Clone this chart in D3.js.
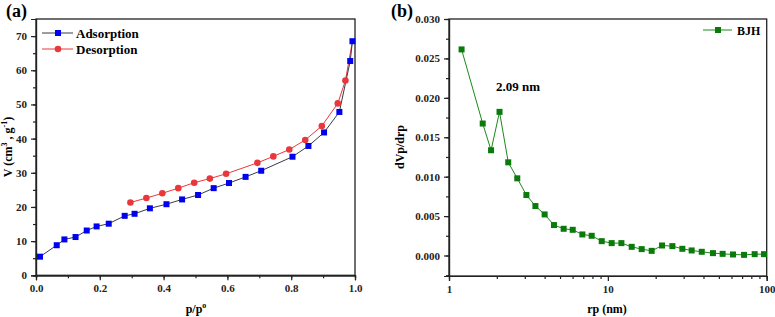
<!DOCTYPE html>
<html>
<head>
<meta charset="utf-8">
<script src="https://cdn.jsdelivr.net/npm/d3@7"></script>
<style>
  body { margin: 0; background: #fff; }
  text { font-family: "Liberation Serif", "Times New Roman", serif; font-weight: bold; }
</style>
</head>
<body>
<div id="chart"></div>
<script>
// panel (a) isotherm
const adsP = [0.0125, 0.065, 0.089, 0.124, 0.159, 0.190, 0.228, 0.278, 0.309, 0.357, 0.409, 0.458, 0.508, 0.557, 0.605, 0.657, 0.706, 0.804, 0.854, 0.903, 0.951, 0.985, 0.992];
const adsV = [5.45, 8.8, 10.5, 11.2, 13.1, 14.3, 15.1, 17.4, 18.0, 19.6, 20.8, 22.2, 23.5, 25.5, 27.0, 28.8, 30.6, 34.7, 37.85, 41.8, 47.8, 62.7, 68.5];
const desP = [0.296, 0.346, 0.396, 0.446, 0.496, 0.545, 0.596, 0.694, 0.744, 0.794, 0.844, 0.896, 0.946, 0.970, 0.992];
const desV = [21.3, 22.6, 24.0, 25.5, 27.1, 28.3, 29.7, 32.9, 34.8, 36.8, 39.6, 43.7, 50.3, 57.0, 68.5];
const aXTicks = [0, 0.2, 0.4, 0.6, 0.8, 1.0];
const aYTicks = [0, 10, 20, 30, 40, 50, 60, 70];

// panel (b) BJH pore size distribution
const rp = [1.20, 1.63, 1.84, 2.08, 2.36, 2.69, 3.07, 3.50, 4.00, 4.58, 5.27, 6.01, 6.91, 7.91, 9.15, 10.57, 12.17, 14.13, 16.33, 18.88, 21.93, 25.48, 29.45, 33.7, 39.0, 45.9, 52.8, 61.4, 72.0, 84.0, 96.2];
const dv = [0.02614, 0.01674, 0.01335, 0.01822, 0.01182, 0.00979, 0.00767, 0.00627, 0.00521, 0.00386, 0.00339, 0.00326, 0.00267, 0.00250, 0.00182, 0.00157, 0.00157, 0.00110, 0.00081, 0.00059, 0.00127, 0.00119, 0.00085, 0.00064, 0.00047, 0.00030, 0.00021, 0.00013, 0.00008, 0.00017, 0.00017];
const bXTicks = [1, 10, 100];
const bYTicks = [0, 0.005, 0.010, 0.015, 0.020, 0.025, 0.030];

const width = 775, height = 317;
const svg = d3.select("#chart").append("svg")
    .attr("width", width).attr("height", height);

// ---------- panel (a)
const xa = d3.scaleLinear().domain([0, 1]).range([36, 355]);
const ya = d3.scaleLinear().domain([0, 75]).range([275.3, 19]);

const ga = svg.append("g");
ga.append("rect").attr("x", 36).attr("y", 19).attr("width", 319).attr("height", 256.3)
    .attr("fill", "none").attr("stroke", "#222").attr("stroke-width", 1.3);

ga.append("g").attr("transform", "translate(0,275.3)")
    .call(d3.axisBottom(xa).tickValues(d3.range(0, 1.01, 0.1)).tickSize(3).tickFormat(""));
ga.append("g").attr("transform", "translate(0,275.3)")
    .call(d3.axisBottom(xa).tickValues(aXTicks).tickSize(5).tickPadding(4).tickFormat(d3.format(".1f")));
ga.append("g").attr("transform", "translate(36,0)")
    .call(d3.axisLeft(ya).tickValues(d3.range(0, 75, 5)).tickSize(3).tickFormat(""));
ga.append("g").attr("transform", "translate(36,0)")
    .call(d3.axisLeft(ya).tickValues(aYTicks).tickSize(5).tickPadding(4));

const desData = desP.map((p, i) => ({ p, v: desV[i] }));
const adsData = adsP.map((p, i) => ({ p, v: adsV[i] }));

ga.append("path").datum(desData)
    .attr("fill", "none").attr("stroke", "#e8383c").attr("stroke-width", 1)
    .attr("d", d3.line().x(d => xa(d.p)).y(d => ya(d.v)));
ga.append("path").datum(adsData)
    .attr("fill", "none").attr("stroke", "#3a3a4a").attr("stroke-width", 1)
    .attr("d", d3.line().x(d => xa(d.p)).y(d => ya(d.v)));

ga.selectAll(".des").data(desData.slice(0, -1)).enter().append("circle")
    .attr("cx", d => xa(d.p)).attr("cy", d => ya(d.v)).attr("r", 3.3)
    .attr("fill", "#e8383c");
ga.selectAll(".ads").data(adsData).enter().append("rect")
    .attr("x", d => xa(d.p) - 3).attr("y", d => ya(d.v) - 3)
    .attr("width", 6).attr("height", 6).attr("fill", "#0000f0");

// legend (a)
ga.append("line").attr("x1", 42).attr("x2", 73).attr("y1", 33).attr("y2", 33).attr("stroke", "#3a3a4a");
ga.append("rect").attr("x", 55).attr("y", 30).attr("width", 6).attr("height", 6).attr("fill", "#0000f0");
ga.append("text").attr("x", 76).attr("y", 37.5).attr("font-size", 13).text("Adsorption");
ga.append("line").attr("x1", 42).attr("x2", 73).attr("y1", 49).attr("y2", 49).attr("stroke", "#e8383c");
ga.append("circle").attr("cx", 58).attr("cy", 49).attr("r", 3.3).attr("fill", "#e8383c");
ga.append("text").attr("x", 76).attr("y", 53.5).attr("font-size", 13).text("Desorption");

// titles (a)
ga.append("text").attr("x", 6).attr("y", 17).attr("font-size", 18).text("(a)");
const xt = ga.append("text").attr("x", 196).attr("y", 313).attr("text-anchor", "middle").attr("font-size", 12);
xt.append("tspan").text("p/p");
xt.append("tspan").attr("dy", -5).attr("font-size", 8).text("o");
const yt = ga.append("text").attr("transform", "translate(12,147) rotate(-90)")
    .attr("text-anchor", "middle").attr("font-size", 12);
yt.append("tspan").text("V (cm");
yt.append("tspan").attr("dy", -5).attr("font-size", 8).text("3");
yt.append("tspan").attr("dy", 5).text(" , g");
yt.append("tspan").attr("dy", -5).attr("font-size", 8).text("-1");
yt.append("tspan").attr("dy", 5).text(")");

// ---------- panel (b)
const xb = d3.scaleLog().domain([1, 100]).range([449, 766.7]);
const yb = d3.scaleLinear().domain([-0.0026, 0.03]).range([276, 19]);

const gb = svg.append("g");
gb.append("rect").attr("x", 449).attr("y", 19).attr("width", 317.7).attr("height", 257)
    .attr("fill", "none").attr("stroke", "#222").attr("stroke-width", 1.3);

const minorLog = [];
[1, 10].forEach(dec => { for (let k = 2; k <= 9; k++) minorLog.push(dec * k); });
gb.append("g").attr("transform", "translate(0,276)")
    .call(d3.axisBottom(xb).tickValues(minorLog).tickSize(3).tickFormat(""));
gb.append("g").attr("transform", "translate(0,276)")
    .call(d3.axisBottom(xb).tickValues(bXTicks).tickSize(5).tickPadding(4).tickFormat(d3.format("d")));
gb.append("g").attr("transform", "translate(449,0)")
    .call(d3.axisLeft(yb).tickValues(d3.range(-0.0025, 0.0301, 0.0025)).tickSize(3).tickFormat(""));
gb.append("g").attr("transform", "translate(449,0)")
    .call(d3.axisLeft(yb).tickValues(bYTicks).tickSize(5).tickPadding(4).tickFormat(d3.format(".3f")));

const bjh = rp.map((r, i) => ({ r, v: dv[i] }));
gb.append("path").datum(bjh)
    .attr("fill", "none").attr("stroke", "#1a8a1a").attr("stroke-width", 1)
    .attr("d", d3.line().x(d => xb(d.r)).y(d => yb(d.v)));
gb.selectAll(".bjh").data(bjh).enter().append("rect")
    .attr("x", d => xb(d.r) - 3).attr("y", d => yb(d.v) - 3)
    .attr("width", 6).attr("height", 6).attr("fill", "#0a7a0a");

// legend (b)
gb.append("line").attr("x1", 703).attr("x2", 732).attr("y1", 30).attr("y2", 30).attr("stroke", "#1a8a1a");
gb.append("rect").attr("x", 715).attr("y", 27).attr("width", 6).attr("height", 6).attr("fill", "#0a7a0a");
gb.append("text").attr("x", 737).attr("y", 34.5).attr("font-size", 12).text("BJH");

gb.append("text").attr("x", 496).attr("y", 91).attr("font-size", 13).text("2.09 nm");

gb.append("text").attr("x", 391).attr("y", 17).attr("font-size", 18).text("(b)");
gb.append("text").attr("x", 607).attr("y", 313).attr("text-anchor", "middle").attr("font-size", 12).text("rp (nm)");
gb.append("text").attr("transform", "translate(404,147) rotate(-90)")
    .attr("text-anchor", "middle").attr("font-size", 12).text("dVp/drp");

svg.selectAll(".tick text").attr("font-size", 11).attr("font-family", "Liberation Serif, serif").attr("font-weight", "bold").attr("fill", "#222");
svg.selectAll(".domain, .tick line").attr("stroke", "#222").attr("stroke-width", 1.2);
</script>
</body>
</html>
